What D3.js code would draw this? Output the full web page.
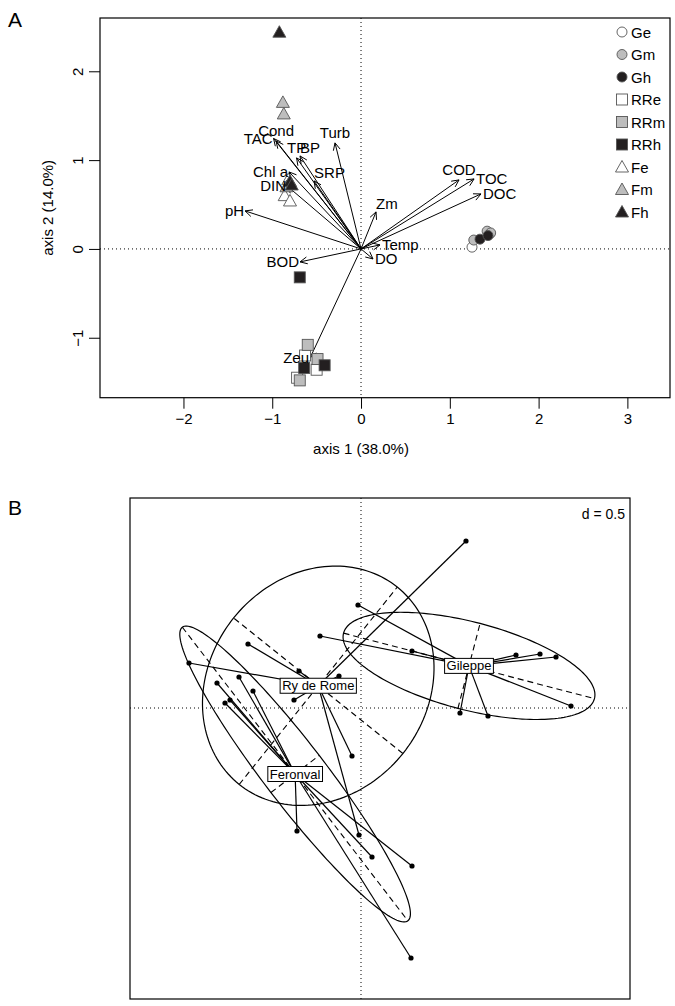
<!DOCTYPE html>
<html><head><meta charset="utf-8">
<script src="https://cdn.jsdelivr.net/npm/d3@7"></script>
<style>body{margin:0;background:#fff} text{font-family:"Liberation Sans",Arial,sans-serif;fill:#000}</style>
</head><body><svg id="c" width="675" height="1006"></svg>
<script>
// ---------- Panel A data ----------
const varNames = ["Cond","TAC","Turb","TP","BP","SRP","Chl a","DIN","pH","Zm","COD","TOC","DOC","Temp","DO","BOD","Zeu"];
const varX = [-0.957,-0.985,-0.293,-0.726,-0.687,-0.529,-0.811,-0.833,-1.306,0.169,1.104,1.273,1.351,0.214,0.135,-0.687,-0.574];
const varY = [1.216,1.244,1.194,1.025,1.047,0.766,0.867,0.709,0.428,0.417,0.777,0.788,0.619,0.045,-0.113,-0.146,-1.227];
const varSide = ["t","l","t","t","tr","tr","l","l","l","tr","t","r","r","r","r","l","l"];

const siteClasses = ["Ge","Gm","Gh","RRe","RRm","RRh","Fe","Fm","Fh"];
const siteClass = ["Ge","Ge","Gm","Gm","Gm","Gh","Gh","RRe","RRe","RRe","RRm","RRm","RRm","RRh","RRh","RRh","Fe","Fe","Fe","Fm","Fm","Fm","Fh","Fh","Fh"];
const siteX = [1.25,1.45,1.27,1.42,1.46,1.34,1.43,-0.63,-0.50,-0.72,-0.60,-0.49,-0.69,-0.41,-0.64,-0.69,-0.86,-0.80,-0.82,-0.88,-0.87,-0.84,-0.92,-0.80,-0.78];
const siteY = [0.02,0.17,0.10,0.20,0.18,0.11,0.15,-1.20,-1.36,-1.45,-1.08,-1.24,-1.48,-1.31,-1.34,-0.32,0.60,0.54,0.78,1.65,1.52,0.70,2.44,0.76,0.72];

const xTicksA = [-2,-1,0,1,2,3];
const yTicksA = [-1,0,1,2];
const xTitleA = "axis 1 (38.0%)";
const yTitleA = "axis 2 (14.0%)";

// ---------- Panel B data ----------
const groupNames = ["Gileppe","Ry de Rome","Feronval"];
const ptGroup = ["Gileppe","Gileppe","Gileppe","Gileppe","Gileppe","Gileppe","Gileppe","Gileppe","Gileppe",
  "Ry de Rome","Ry de Rome","Ry de Rome","Ry de Rome","Ry de Rome","Ry de Rome","Ry de Rome","Ry de Rome",
  "Feronval","Feronval","Feronval","Feronval","Feronval","Feronval","Feronval","Feronval","Feronval"];
const ptX = [-0.03,-0.41,0.51,1.55,1.79,1.95,2.10,0.99,1.27,
  1.05,-1.13,-0.62,-1.72,-0.22,-0.67,-0.09,-0.02,
  -1.44,-1.22,-1.08,-1.31,-1.36,-0.64,0.11,0.51,0.50];
const ptY = [1.03,0.72,0.57,0.53,0.54,0.51,0.02,-0.05,-0.08,
  1.67,0.64,0.37,0.45,0.32,0.08,-0.48,-1.27,
  0.25,0.31,0.17,0.08,0.05,-1.23,-1.49,-1.58,-2.50];
const gridLabel = "d = 0.5";

// ---------- drawing ----------
const svg = d3.select("#c");
const FS = 15;

// Panel A
const A = {l:100, r:670, t:18, b:397.7};
const xA = d3.scaleLinear().domain([-2.94, 3.48]).range([A.l, A.r]);
const yA = d3.scaleLinear().domain([-1.675, 2.60]).range([A.b, A.t]);
const gA = svg.append("g");
gA.append("text").attr("x",8).attr("y",27).attr("font-size",21).text("A");
// dotted axes
gA.append("line").attr("x1",xA(0)).attr("x2",xA(0)).attr("y1",A.t).attr("y2",A.b)
  .attr("stroke","#000").attr("stroke-width",1).attr("stroke-dasharray","1,3");
gA.append("line").attr("x1",A.l).attr("x2",A.r).attr("y1",yA(0)).attr("y2",yA(0))
  .attr("stroke","#000").attr("stroke-width",1).attr("stroke-dasharray","1,3");
// axes
const axB = d3.axisBottom(xA).tickValues(xTicksA).tickSize(11).tickPadding(5).tickFormat(d3.format("d"));
const gx = gA.append("g").attr("transform",`translate(0,${A.b})`).call(axB);
gx.select(".domain").remove();
gx.selectAll("text").attr("font-size",FS).attr("font-family","Liberation Sans, Arial").attr("fill","#000");
gx.selectAll("line").attr("stroke","#000");
const axL = d3.axisLeft(yA).tickValues(yTicksA).tickSize(11).tickPadding(0).tickFormat(d3.format("d"));
const gy = gA.append("g").attr("transform",`translate(${A.l},0)`).call(axL);
gy.select(".domain").remove();
gy.selectAll("line").attr("stroke","#000");
gy.selectAll("text").attr("font-size",FS).attr("font-family","Liberation Sans, Arial").attr("fill","#000")
  .attr("text-anchor","middle").attr("x",0).attr("dy",0)
  .attr("transform","translate(-23,0) rotate(-90)").attr("dominant-baseline","central");
gA.append("text").attr("x",xA(0)).attr("y",454).attr("text-anchor","middle").attr("font-size",FS).text(xTitleA);
gA.append("text").attr("transform",`translate(53,${(A.t+A.b)/2}) rotate(-90)`).attr("text-anchor","middle").attr("font-size",FS).text(yTitleA);

// arrows
const ox = xA(0), oy = yA(0);
varNames.forEach((n,i)=>{
  const tx = xA(varX[i]), ty = yA(varY[i]);
  gA.append("line").attr("x1",ox).attr("y1",oy).attr("x2",tx).attr("y2",ty).attr("stroke","#000").attr("stroke-width",1);
  const th = Math.atan2(ty-oy, tx-ox), L=8, ang = Math.PI/7;
  [th+Math.PI-ang, th+Math.PI+ang].forEach(a=>{
    gA.append("line").attr("x1",tx).attr("y1",ty).attr("x2",tx+L*Math.cos(a)).attr("y2",ty+L*Math.sin(a))
      .attr("stroke","#000").attr("stroke-width",1);
  });
});

// sites
const fillOf = c => c.endsWith("e") ? "#ffffff" : (c.endsWith("m") ? "#bdbdbd" : "#231f20");
const shapeOf = c => c.startsWith("RR") ? "sq" : (c.startsWith("G") ? "ci" : "tr");
function marker(g, c, x, y){
  const f = fillOf(c), s = shapeOf(c);
  const st = "#555";
  if(s==="ci") g.append("circle").attr("cx",x).attr("cy",y).attr("r",5).attr("fill",f).attr("stroke",st).attr("stroke-width",0.9);
  else if(s==="sq") g.append("rect").attr("x",x-5.5).attr("y",y-5.5).attr("width",11).attr("height",11).attr("fill",f).attr("stroke",st).attr("stroke-width",0.9);
  else g.append("path").attr("d",`M${x},${y-6.5}L${x+6.5},${y+5}L${x-6.5},${y+5}Z`).attr("fill",f).attr("stroke",st).attr("stroke-width",0.9);
}
siteX.forEach((x,i)=> marker(gA, siteClass[i], xA(x), yA(siteY[i])));

// arrow labels
varNames.forEach((n,i)=>{
  const tx = xA(varX[i]), ty = yA(varY[i]), s = varSide[i];
  let x=tx, y=ty, anc="middle";
  if(s==="l"){x=tx-1; anc="end";}
  else if(s==="r"){x=tx+2; anc="start";}
  else if(s==="t"){y=ty-10;}
  else if(s==="tr"){x=tx; y=ty-8; anc="start";}
  gA.append("text").attr("x",x).attr("y",y).attr("text-anchor",anc).attr("dominant-baseline","central")
    .attr("font-size",FS).text(n);
});

// legend
siteClasses.forEach((c,i)=>{
  const y = 32 + i*22.5;
  marker(gA, c, 622, y);
  gA.append("text").attr("x",631).attr("y",y).attr("dominant-baseline","central").attr("font-size",FS).text(c);
});
gA.append("rect").attr("x",A.l).attr("y",A.t).attr("width",A.r-A.l).attr("height",A.b-A.t)
  .attr("fill","none").attr("stroke","#000").attr("stroke-width",1.2);

// Panel B
const B = {l:130, r:630, t:498, b:999};
const xB = d3.scaleLinear().domain([-2.31, 2.69]).range([B.l, B.r]);
const yB = d3.scaleLinear().domain([-2.91, 2.10]).range([B.b, B.t]);
const gB = svg.append("g");
gB.append("text").attr("x",8).attr("y",515).attr("font-size",21).text("B");
gB.append("line").attr("x1",xB(0)).attr("x2",xB(0)).attr("y1",B.t).attr("y2",B.b)
  .attr("stroke","#000").attr("stroke-width",1).attr("stroke-dasharray","1,3");
gB.append("line").attr("x1",B.l).attr("x2",B.r).attr("y1",yB(0)).attr("y2",yB(0))
  .attr("stroke","#000").attr("stroke-width",1).attr("stroke-dasharray","1,3");

const groups = groupNames.map(g=>{
  const idx = ptGroup.map((p,i)=>p===g?i:-1).filter(i=>i>=0);
  const xs = idx.map(i=>ptX[i]), ys = idx.map(i=>ptY[i]);
  const n = xs.length, mx = d3.mean(xs), my = d3.mean(ys);
  let vx=0, vy=0, cxy=0;
  for(let k=0;k<n;k++){vx+=(xs[k]-mx)**2/n; vy+=(ys[k]-my)**2/n; cxy+=(xs[k]-mx)*(ys[k]-my)/n;}
  const tr=vx+vy, det=vx*vy-cxy*cxy, disc=Math.sqrt(Math.max(0,tr*tr/4-det));
  const l1=tr/2+disc, l2=tr/2-disc;
  let v1 = Math.abs(cxy)>1e-12 ? [l1-vy, cxy] : (vx>=vy?[1,0]:[0,1]);
  const nn = Math.hypot(v1[0],v1[1]); v1=[v1[0]/nn, v1[1]/nn];
  const v2=[-v1[1], v1[0]];
  return {name:g, xs, ys, mx, my, a:1.5*Math.sqrt(l1), b:1.5*Math.sqrt(Math.max(0,l2)), v1, v2};
});

// ellipses + dashed axes
groups.forEach(G=>{
  const pts = d3.range(0,361,2).map(t=>{const r=t*Math.PI/180;
    return [xB(G.mx + Math.cos(r)*G.a*G.v1[0] + Math.sin(r)*G.b*G.v2[0]),
            yB(G.my + Math.cos(r)*G.a*G.v1[1] + Math.sin(r)*G.b*G.v2[1])];});
  gB.append("path").attr("d", d3.line()(pts)+"Z").attr("fill","none").attr("stroke","#000").attr("stroke-width",1.2);
  [[G.a,G.v1],[G.b,G.v2]].forEach(([len,v])=>{
    gB.append("line").attr("x1",xB(G.mx-len*v[0])).attr("y1",yB(G.my-len*v[1]))
      .attr("x2",xB(G.mx+len*v[0])).attr("y2",yB(G.my+len*v[1]))
      .attr("stroke","#000").attr("stroke-width",1.1).attr("stroke-dasharray","6,4");
  });
});
// stars
groups.forEach(G=>{
  G.xs.forEach((x,k)=>{
    gB.append("line").attr("x1",xB(G.mx)).attr("y1",yB(G.my)).attr("x2",xB(x)).attr("y2",yB(G.ys[k]))
      .attr("stroke","#000").attr("stroke-width",1.2);
  });
});
// points
ptX.forEach((x,i)=> gB.append("circle").attr("cx",xB(x)).attr("cy",yB(ptY[i])).attr("r",2.6).attr("fill","#000"));
// labels
groups.forEach(G=>{
  const t = gB.append("text").attr("x",xB(G.mx)).attr("y",yB(G.my)).attr("text-anchor","middle")
    .attr("dominant-baseline","central").attr("font-size",13).text(G.name);
  const bb = t.node().getBBox();
  gB.insert("rect", () => t.node()).attr("x",bb.x-2).attr("y",yB(G.my)-7.5).attr("width",bb.width+4).attr("height",15)
    .attr("fill","#fff").attr("stroke","#000").attr("stroke-width",1);
});
// d label
gB.append("text").attr("x",B.r-5).attr("y",B.t+16).attr("text-anchor","end")
  .attr("dominant-baseline","central").attr("font-size",14).text(gridLabel);
gB.append("rect").attr("x",B.l).attr("y",B.t).attr("width",B.r-B.l).attr("height",B.b-B.t)
  .attr("fill","none").attr("stroke","#000").attr("stroke-width",1.2);
</script></body></html>
